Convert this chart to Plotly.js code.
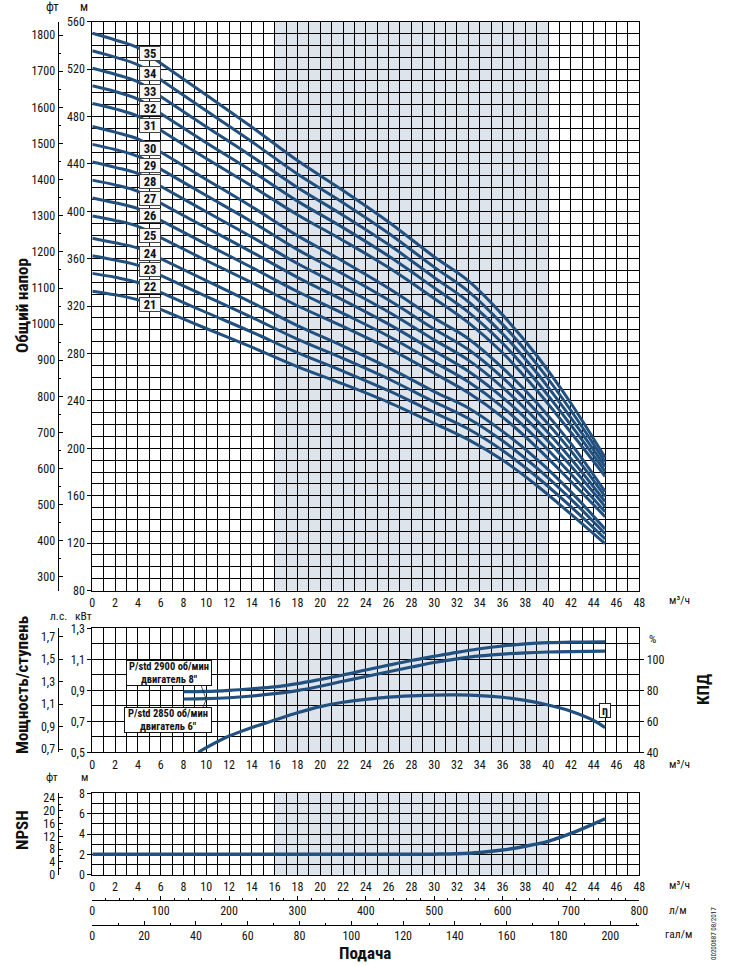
<!DOCTYPE html>
<html>
<head>
<meta charset="utf-8">
<script src="https://cdn.plot.ly/plotly-3.0.1.min.js"></script>
<style>html,body{margin:0;padding:0;background:#fff}</style>
</head>
<body>
<div id="chart" style="width:730px;height:966px"></div>
<script>
// ---------- DATA ----------
const flowSamples = [0,2,4,6,10,14,18,22,26,30,33,36,39,42,45];
const stage35 = [550.2,544.6,538.0,525.0,498.1,471.1,442.8,417.6,391.0,361.6,341.3,312.6,278.3,238.0,192.2];
const stage34 = [535.5,530.1,523.6,511.0,484.8,458.7,431.5,407.3,381.5,352.9,332.5,304.6,271.0,231.9,188.4];
const stage33 = [520.7,515.6,509.2,496.8,471.4,446.3,420.1,396.7,371.9,344.2,323.7,296.7,263.7,225.7,184.5];
const stage32 = [505.9,501.1,494.7,482.6,457.9,433.9,408.6,386.2,362.2,335.4,314.9,288.6,256.3,219.5,180.5];
const stage31 = [491.0,486.4,480.2,468.4,444.5,421.3,397.1,375.4,352.5,326.4,306.0,280.6,248.9,213.3,176.4];
const stage30 = [471.6,466.8,461.1,450.0,426.9,403.8,379.5,357.9,335.1,309.9,292.5,267.9,238.5,204.0,163.5];
const stage29 = [456.5,452.1,446.3,435.6,413.3,391.2,367.7,347.1,325.1,300.7,283.3,259.6,231.1,197.8,159.4];
const stage28 = [441.6,437.1,431.8,421.1,399.6,378.3,355.9,336.0,315.0,291.5,274.4,251.4,223.4,191.2,155.0];
const stage27 = [426.3,422.3,416.9,406.9,386.1,365.6,344.3,325.1,304.8,282.2,265.1,243.0,216.0,185.0,150.8];
const stage26 = [411.3,407.2,402.2,392.3,372.3,352.6,332.3,313.8,294.6,272.7,256.1,234.8,208.3,178.4,146.4];
const stage25 = [396.0,392.3,387.3,377.8,358.5,339.8,320.3,302.8,284.3,263.3,246.8,226.3,200.8,172.0,142.3];
const stage24 = [377.3,373.4,368.9,360.0,341.5,323.0,303.6,286.3,268.1,247.9,234.0,214.3,190.8,163.2,131.8];
const stage23 = [362.5,358.8,354.4,345.9,328.2,310.5,292.1,275.8,258.5,239.2,225.2,206.3,183.5,157.1,127.9];
const stage22 = [347.6,344.3,339.9,331.5,314.6,298.1,280.7,265.1,248.6,230.1,216.3,198.2,176.0,150.7,123.6];
const stage21 = [332.6,329.5,325.3,317.3,301.1,285.4,269.0,254.3,238.8,221.1,207.3,190.1,168.6,144.5,119.5];
const stageCurves = [stage35,stage34,stage33,stage32,stage31,stage30,stage29,stage28,stage27,stage26,stage25,stage24,stage23,stage22,stage21];
const stageNames = ['35','34','33','32','31','30','29','28','27','26','25','24','23','22','21'];
const stageLabelHeads = [533.3,516.4,500.9,486.9,472.2,453.1,438.5,425,411,396.3,380,364,351.1,336.4,321.6];

const powerFlow = [8,10,12,14,16,18,20,22,24,26,28,30,32,34,36,38,40,42,45];
const power2900 = [.891,.893,.900,.910,.922,.943,.970,.999,1.031,1.062,1.092,1.119,1.145,1.168,1.186,1.199,1.207,1.211,1.213];
const power2850 = [.844,.846,.852,.863,.878,.898,.926,.958,.989,1.02,1.050,1.079,1.103,1.122,1.134,1.142,1.147,1.150,1.153];
const effFlow = [9.3,10,12,14,16,18,20,22,24,26,28,30,32,34,36,38,40,42,44,45];
const effValues = [40,43,50.5,56,60.8,65.5,69.5,72.3,74.2,75.6,76.4,76.9,77,76.6,75.5,73.5,70.5,66.5,60.5,55.9];
const npshFlow = [0,10,20,28,30,32,34,36,38,40,42,44,45];
const npshValues = [2,2,2,2,2.02,2.06,2.18,2.42,2.8,3.28,4.05,5.0,5.5];

const feetTicks = [300,400,500,600,700,800,900,1000,1100,1200,1300,1400,1500,1600,1700,1800];
const hpTicks = [0.7,0.9,1.1,1.3,1.5,1.7];
const effTicks = [40,60,80,100];
const lpmTicks = [0,100,200,300,400,500,600,700,800];
const gpmTicks = [0,20,40,60,80,100,120,140,160,180,200];
const shadeStart = 16, shadeEnd = 40;
const flowRange = [0,48];

// ---------- LAYOUT HELPERS ----------
const W = 730, H = 966;
const FONT = "'Liberation Sans Narrow','Roboto Condensed','Liberation Sans',sans-serif";
const INK = '#111';
const BLUE = '#23517f';
const GRID = '#000';
const GW = 1;
const px = v => v / W;
const py = v => 1 - v / H;
const xDomain = [px(92.3), px(639.3)];
const tickFont = {family: FONT, size: 12, color: INK};

function flowAxis(anchor) {
  return {domain: xDomain, anchor, range: flowRange, tick0: 0, dtick: 2, ticks: '',
    showgrid: true, gridcolor: GRID, gridwidth: GW, zeroline: false,
    showline: true, linecolor: GRID, linewidth: GW, mirror: true,
    tickfont: tickFont, ticklabelstandoff: 1,
    minor: {dtick: 1, showgrid: true, gridcolor: GRID, gridwidth: GW, ticks: ''}};
}
function valueAxis(anchor, top, bottom, range, tick0, dtick, minor, fmt) {
  return {domain: [py(bottom), py(top)], anchor, range, tick0, dtick, ticks: 'outside', ticklen: 4,
    tickcolor: GRID, tickwidth: 1, showgrid: true, gridcolor: GRID, gridwidth: GW, zeroline: false,
    showline: true, linecolor: GRID, linewidth: GW, mirror: true, tickfont: tickFont, tickformat: fmt,
    minor: {tick0, dtick: minor, showgrid: true, gridcolor: GRID, gridwidth: GW, ticks: ''}};
}
function sideAxis(over, pos, range, extra) {
  return Object.assign({overlaying: over, anchor: 'free', position: px(pos), side: 'left', range,
    showgrid: false, zeroline: false, showline: true, linecolor: GRID, linewidth: 1,
    ticks: 'inside', ticklen: 4, tickcolor: GRID, tickwidth: 1, tickfont: tickFont}, extra);
}
function helperTrace(xa, ya, xs, ys) {
  return {x: xs, y: ys, xaxis: xa, yaxis: ya, mode: 'lines', line: {width: 0}, hoverinfo: 'skip', showlegend: false};
}
function text(t, x, y, opts) {
  return Object.assign({text: t, xref: 'paper', yref: 'paper', x: px(x), y: py(y), showarrow: false,
    xanchor: 'center', yanchor: 'middle', font: {family: FONT, size: 11.5, color: INK}}, opts || {});
}
function bold(size) { return {family: FONT, size, color: INK, weight: 700}; }

// ---------- TRACES ----------
const traces = [];
stageCurves.forEach((c, i) => traces.push({x: flowSamples, y: c, name: stageNames[i], xaxis: 'x', yaxis: 'y',
  mode: 'lines', line: {color: BLUE, width: 3, shape: 'spline', smoothing: 1}, showlegend: false}));
traces.push({x: powerFlow, y: power2900, name: 'P/std 2900', xaxis: 'x2', yaxis: 'y2', mode: 'lines',
  line: {color: BLUE, width: 3.2, shape: 'spline', smoothing: 1}, showlegend: false});
traces.push({x: powerFlow, y: power2850, name: 'P/std 2850', xaxis: 'x2', yaxis: 'y2', mode: 'lines',
  line: {color: BLUE, width: 3.2, shape: 'spline', smoothing: 1}, showlegend: false});
traces.push({x: effFlow, y: effValues, name: 'КПД', xaxis: 'x2', yaxis: 'y6', mode: 'lines',
  line: {color: BLUE, width: 3.2, shape: 'spline', smoothing: 1}, showlegend: false});
traces.push({x: npshFlow, y: npshValues, name: 'NPSH', xaxis: 'x3', yaxis: 'y3', mode: 'lines',
  line: {color: BLUE, width: 3.5, shape: 'spline', smoothing: 1}, showlegend: false});
traces.push(helperTrace('x', 'y4', flowRange, [feetTicks[0], feetTicks[feetTicks.length - 1]]));
traces.push(helperTrace('x2', 'y5', flowRange, [hpTicks[0], hpTicks[hpTicks.length - 1]]));
traces.push(helperTrace('x3', 'y7', flowRange, [0, 24]));
traces.push(helperTrace('x4', 'y3', [lpmTicks[0], lpmTicks[lpmTicks.length - 1]], [0, 0]));
traces.push(helperTrace('x5', 'y3', [gpmTicks[0], gpmTicks[gpmTicks.length - 1]], [0, 0]));

// ---------- SHAPES ----------
function shade(xr, yr) {
  return {type: 'rect', layer: 'below', xref: xr, yref: yr + ' domain', x0: shadeStart, x1: shadeEnd, y0: 0, y1: 1,
    fillcolor: '#dde4ec', line: {width: 0}};
}
function leader(x0, y0, x1, y1) {
  return {type: 'line', xref: 'paper', yref: 'paper', x0: px(x0), y0: py(y0), x1: px(x1), y1: py(y1),
    line: {color: '#222', width: 0.8}};
}
const shapes = [shade('x', 'y'), shade('x2', 'y2'), shade('x3', 'y3'),
  leader(201, 685, 206, 699), leader(203, 707, 206, 700)];

// ---------- ANNOTATIONS ----------
const annotations = [];
stageNames.forEach((n, i) => annotations.push({text: n, xref: 'x', yref: 'y', x: 5.05, y: stageLabelHeads[i],
  showarrow: false, width: 20, height: 13, borderpad: 0, borderwidth: 1, bordercolor: '#444', bgcolor: '#f7f7f7',
  font: bold(12.5), xanchor: 'center', yanchor: 'middle'}));
annotations.push(
  text('фт', 53, 6, {font: {family: FONT, size: 12.5, color: INK}}),
  text('м', 84, 6, {font: {family: FONT, size: 12.5, color: INK}}),
  text('Общий напор', 22, 306, {textangle: -90, font: bold(17)}),
  text('Мощность/ступень', 22, 685, {textangle: -90, font: bold(17)}),
  text('NPSH', 22, 830, {textangle: -90, font: bold(17)}),
  text('КПД', 703, 690, {textangle: -90, font: bold(17)}),
  text('л.с.', 58, 616),
  text('кВт', 83, 616),
  text('фт', 52, 777),
  text('м', 84, 777),
  text('%', 652, 639),
  text('м³/ч', 679, 600),
  text('м³/ч', 679, 764),
  text('м³/ч', 679, 885),
  text('л/м', 678, 910),
  text('гал/м', 678, 934),
  text('Подача', 365, 953, {font: bold(17)}),
  text('00200687 08/2017', 714, 934, {textangle: -90, font: {family: FONT, size: 7, color: INK}}),
  text('P/std 2900 об/мин<br>двигатель 8"', 168.5, 673, {width: 84, height: 24, bgcolor: '#fff', bordercolor: '#111',
    borderwidth: 1, borderpad: 0, font: bold(10.5)}),
  text('P/std 2850 об/мин<br>двигатель 6"', 167.5, 720, {width: 86, height: 24, bgcolor: '#fff', bordercolor: '#111',
    borderwidth: 1, borderpad: 0, font: bold(10.5)}),
  {text: 'η', xref: 'x2', yref: 'y2', x: 45, y: 0.771, showarrow: false, width: 10, height: 13, borderpad: 0,
    borderwidth: 1, bordercolor: '#222', bgcolor: '#fff', font: bold(12)}
);

// ---------- LAYOUT ----------
const layout = {
  width: W, height: H, margin: {l: 0, r: 0, t: 0, b: 0}, showlegend: false,
  paper_bgcolor: '#fff', plot_bgcolor: '#fff', separators: ', ', font: tickFont,
  xaxis: flowAxis('y'), xaxis2: flowAxis('y2'), xaxis3: flowAxis('y3'),
  xaxis4: {overlaying: 'x3', anchor: 'free', position: py(900), side: 'bottom', range: [0, 800],
    tickvals: lpmTicks, ticks: 'inside', ticklen: 4, tickcolor: GRID, showgrid: false, zeroline: false,
    showline: true, linecolor: GRID, linewidth: 1, tickfont: tickFont,
    minor: {dtick: 20, ticks: 'inside', ticklen: 2.5, tickcolor: GRID, showgrid: false}},
  xaxis5: {overlaying: 'x3', anchor: 'free', position: py(925), side: 'bottom', range: [0, 211.2],
    tickvals: gpmTicks, ticks: 'inside', ticklen: 4, tickcolor: GRID, showgrid: false, zeroline: false,
    showline: true, linecolor: GRID, linewidth: 1, tickfont: tickFont,
    minor: {dtick: 10, ticks: 'inside', ticklen: 2.5, tickcolor: GRID, showgrid: false}},
  yaxis: valueAxis('x', 21.7, 590.5, [80, 560], 80, 40, 10),
  yaxis2: valueAxis('x2', 628.3, 752.3, [0.5, 1.3], 0.5, 0.2, 0.1, '.1f'),
  yaxis3: valueAxis('x3', 793.3, 874.7, [0, 8], 0, 2, 1),
  yaxis4: sideAxis('y', 57.5, [262.5, 1837.3], {tickvals: feetTicks,
    minor: {dtick: 50, ticks: 'inside', ticklen: 2.5, tickcolor: GRID, showgrid: false}}),
  yaxis5: sideAxis('y2', 57.5, [0.673, 1.775], {tickvals: hpTicks, tickformat: '.1f'}),
  yaxis6: {overlaying: 'y2', anchor: 'x2', side: 'right', range: [40, 120], tickvals: effTicks, ticks: 'outside',
    ticklen: 4, tickcolor: GRID, showgrid: false, zeroline: false, showline: false, tickfont: tickFont},
  yaxis7: sideAxis('y3', 57.5, [0, 25.44], {tickvals: [0,4,8,12,16,20,24],
    minor: {dtick: 2, ticks: 'inside', ticklen: 2.5, tickcolor: GRID, showgrid: false}}),
  shapes, annotations
};

Plotly.newPlot('chart', traces, layout, {displayModeBar: false, staticPlot: true});
</script>
</body>
</html>
